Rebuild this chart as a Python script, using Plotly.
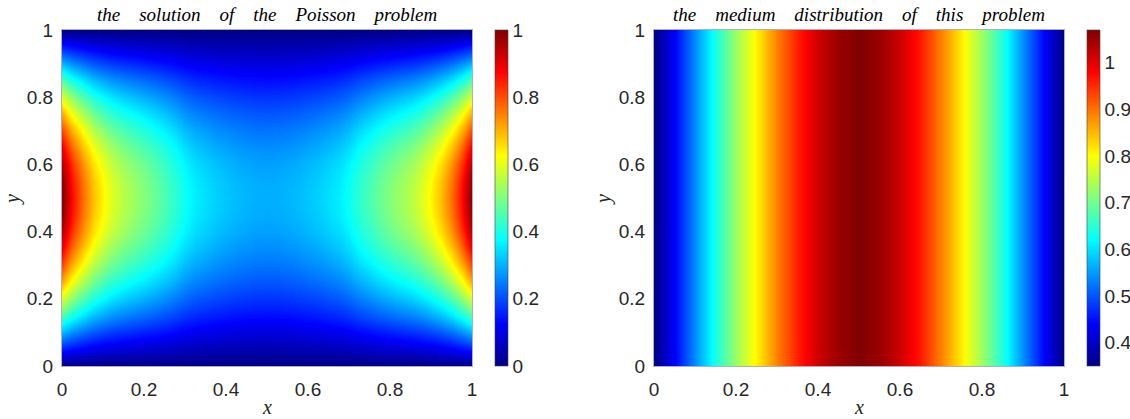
import numpy as np
import plotly.graph_objects as go

W, H = 1130, 419

# ---- data ----
# Poisson solution: profile across x (at y = 0.5) and across y (at x = 0)
x_left = [0.0, 0.025, 0.05, 0.075, 0.1, 0.125, 0.15, 0.175, 0.2, 0.225, 0.25, 0.275, 0.3, 0.325, 0.35,
          0.375, 0.4, 0.425, 0.45, 0.475, 0.5, 0.525, 0.55, 0.575, 0.6, 0.625, 0.65, 0.675, 0.7, 0.725,
          0.75, 0.775, 0.8, 0.825, 0.85, 0.875, 0.9, 0.925, 0.95, 0.975, 1.0]
u_x_profile = [1.00, 0.87, 0.77, 0.69, 0.635, 0.59, 0.555, 0.53, 0.505, 0.48, 0.45, 0.42, 0.385, 0.36, 0.345,
               0.33, 0.32, 0.31, 0.303, 0.298, 0.296, 0.298, 0.303, 0.31, 0.32, 0.33, 0.345, 0.36, 0.385, 0.42,
               0.45, 0.48, 0.505, 0.53, 0.555, 0.59, 0.635, 0.69, 0.77, 0.87, 1.00]
y_left = [0.0, 0.05, 0.1, 0.15, 0.2, 0.25, 0.3, 0.35, 0.4, 0.45, 0.5,
          0.55, 0.6, 0.65, 0.7, 0.75, 0.8, 0.85, 0.9, 0.95, 1.0]
u_y_profile = [0.0, 0.156, 0.309, 0.454, 0.588, 0.707, 0.809, 0.891, 0.951, 0.988, 1.0,
               0.988, 0.951, 0.891, 0.809, 0.707, 0.588, 0.454, 0.309, 0.156, 0.0]

# Medium distribution: depends on x only
x_right = [0.0, 0.05, 0.1, 0.15, 0.2, 0.25, 0.3, 0.35, 0.4, 0.45, 0.5,
           0.55, 0.6, 0.65, 0.7, 0.75, 0.8, 0.85, 0.9, 0.95, 1.0]
medium = [0.35, 0.44, 0.54, 0.64, 0.73, 0.81, 0.89, 0.96, 1.015, 1.052, 1.07,
          1.052, 1.015, 0.96, 0.89, 0.81, 0.73, 0.64, 0.54, 0.44, 0.35]
y_right = [0.0, 1.0]

axis_ticks = [0, 0.2, 0.4, 0.6, 0.8, 1]
axis_ticktext = ["0", "0.2", "0.4", "0.6", "0.8", "1"]

title_left = "the solution of the Poisson problem"
title_right = "the medium distribution of this problem"

# ---- build fields ----
z_left = np.outer(np.array(u_y_profile), np.array(u_x_profile))
z_right = np.vstack([medium, medium])

jet = [[0.0, "rgb(0,0,132)"], [0.125, "rgb(0,0,255)"], [0.375, "rgb(0,255,255)"],
       [0.625, "rgb(255,255,0)"], [0.875, "rgb(255,0,0)"], [1.0, "rgb(128,0,0)"]]

def px_x(p):
    return p / W

def px_y(p):
    return 1 - p / H

plot_top, plot_bot = 30, 366
L = (62, 472)
R = (654, 1064)
ydom = [px_y(plot_bot), px_y(plot_top)]
cb_len = (plot_bot - plot_top) / H

tickfont = dict(family="Liberation Sans, Arial, sans-serif", size=19, color="#262626")

fig = go.Figure()
fig.add_trace(go.Heatmap(
    x=x_left, y=y_left, z=z_left, colorscale=jet, zmin=0, zmax=1, zsmooth="best",
    xaxis="x", yaxis="y",
    colorbar=dict(x=px_x(495), xanchor="left", y=ydom[0], yanchor="bottom", len=cb_len,
                  lenmode="fraction", thickness=13, thicknessmode="pixels",
                  outlinewidth=0.6, outlinecolor="#404040", xpad=0, ypad=0,
                  tickvals=[0, 0.2, 0.4, 0.6, 0.8, 1], ticktext=["0", "0.2", "0.4", "0.6", "0.8", "1"],
                  ticks="", tickfont=tickfont),
))
fig.add_trace(go.Heatmap(
    x=x_right, y=y_right, z=z_right, colorscale=jet, zsmooth="best",
    xaxis="x2", yaxis="y2",
    colorbar=dict(x=px_x(1087), xanchor="left", y=ydom[0], yanchor="bottom", len=cb_len,
                  lenmode="fraction", thickness=13, thicknessmode="pixels",
                  outlinewidth=0.6, outlinecolor="#404040", xpad=0, ypad=0,
                  tickvals=[0.4, 0.5, 0.6, 0.7, 0.8, 0.9, 1.0],
                  ticktext=["0.4", "0.5", "0.6", "0.7", "0.8", "0.9", "1"],
                  ticks="", tickfont=tickfont),
))

ax_common = dict(range=[0, 1], tickvals=axis_ticks, ticktext=axis_ticktext, ticks="",
                 showgrid=False, zeroline=False, showline=True, mirror=True,
                 linecolor="rgba(120,120,160,0.6)", linewidth=1, tickfont=tickfont)

fig.update_layout(
    width=W, height=H, margin=dict(l=0, r=0, t=0, b=0, pad=0, autoexpand=False),
    paper_bgcolor="white", plot_bgcolor="white", showlegend=False,
    xaxis=dict(domain=[px_x(L[0]), px_x(L[1])], anchor="y", ticklabelstandoff=6, **ax_common),
    yaxis=dict(domain=ydom, anchor="x", ticklabelstandoff=4, **ax_common),
    xaxis2=dict(domain=[px_x(R[0]), px_x(R[1])], anchor="y2", ticklabelstandoff=6, **ax_common),
    yaxis2=dict(domain=ydom, anchor="x2", ticklabelstandoff=4, **ax_common),
)

sp = "\u00a0\u00a0\u00a0\u00a0"
def spaced(t):
    return "<i>" + sp.join(t.split(" ")) + "</i>"

serif = dict(family="Liberation Serif, Times New Roman, serif", size=19, color="black")
labfont = dict(family="Liberation Serif, Times New Roman, serif", size=20, color="#262626")

ann = []
ann.append(dict(text=spaced(title_left), x=px_x((L[0] + L[1]) / 2), y=px_y(14), xref="paper", yref="paper",
                showarrow=False, font=serif, xanchor="center", yanchor="middle"))
ann.append(dict(text=spaced(title_right), x=px_x((R[0] + R[1]) / 2), y=px_y(14), xref="paper", yref="paper",
                showarrow=False, font=serif, xanchor="center", yanchor="middle"))
for (a, b) in (L, R):
    ann.append(dict(text="<i>x</i>", x=px_x((a + b) / 2), y=0, xref="paper", yref="paper",
                    showarrow=False, font=labfont, xanchor="center", yanchor="bottom", borderpad=0))
ann.append(dict(text="<i>y</i>", x=px_x(13), y=px_y(200), xref="paper", yref="paper", textangle=-90,
                showarrow=False, font=labfont, xanchor="center", yanchor="middle"))
ann.append(dict(text="<i>y</i>", x=px_x(604), y=px_y(200), xref="paper", yref="paper", textangle=-90,
                showarrow=False, font=labfont, xanchor="center", yanchor="middle"))
fig.update_layout(annotations=ann)

fig.write_html("out.html")
